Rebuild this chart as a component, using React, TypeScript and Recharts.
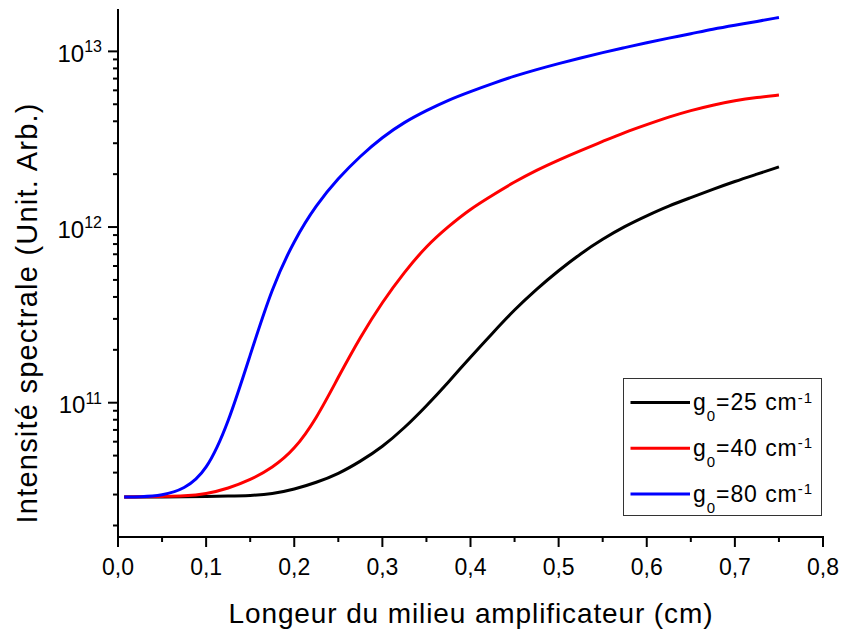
import { Legend, Line, LineChart, XAxis, YAxis } from 'recharts'

// longueur du milieu (cm)
const lengths = [0.007, 0.025, 0.05, 0.075, 0.1, 0.125, 0.15, 0.175, 0.2, 0.225, 0.25, 0.275, 0.3, 0.325, 0.35, 0.375, 0.4, 0.425, 0.45, 0.475, 0.5, 0.525, 0.55, 0.575, 0.6, 0.625, 0.65, 0.675, 0.7, 0.725, 0.75]

// intensité spectrale (u.a.)
const g25 = [2.91e10, 2.91e10, 2.91e10, 2.91e10, 2.93e10, 2.94e10, 2.96e10, 3.02e10, 3.21e10, 3.51e10, 3.93e10, 4.63e10, 5.6e10, 7.18e10, 9.58e10, 1.31e11, 1.82e11, 2.49e11, 3.39e11, 4.44e11, 5.66e11, 7.07e11, 8.55e11, 1.01e12, 1.16e12, 1.32e12, 1.47e12, 1.64e12, 1.82e12, 2.0e12, 2.2e12]
const g40 = [2.91e10, 2.91e10, 2.93e10, 2.94e10, 3.02e10, 3.25e10, 3.63e10, 4.25e10, 5.38e10, 8.08e10, 1.4e11, 2.37e11, 3.75e11, 5.55e11, 7.81e11, 1.01e12, 1.27e12, 1.52e12, 1.81e12, 2.11e12, 2.41e12, 2.73e12, 3.07e12, 3.46e12, 3.83e12, 4.23e12, 4.61e12, 4.95e12, 5.25e12, 5.47e12, 5.64e12]
const g80 = [2.91e10, 2.91e10, 2.96e10, 3.21e10, 4.03e10, 7.56e10, 1.87e11, 4.56e11, 8.44e11, 1.34e12, 1.9e12, 2.54e12, 3.25e12, 3.96e12, 4.61e12, 5.29e12, 5.91e12, 6.56e12, 7.24e12, 7.88e12, 8.53e12, 9.17e12, 9.85e12, 1.05e13, 1.12e13, 1.19e13, 1.26e13, 1.34e13, 1.41e13, 1.48e13, 1.56e13]

const gains = ['25', '40', '80']
const colors = ['#000000', '#ff0000', '#0000ff']

const xTicks = [0, 0.05, 0.1, 0.15, 0.2, 0.25, 0.3, 0.35, 0.4, 0.45, 0.5, 0.55, 0.6, 0.65, 0.7, 0.75, 0.8]
const yTicks = [
  2e10, 3e10, 4e10, 5e10, 6e10, 7e10, 8e10, 9e10,
  1e11, 2e11, 3e11, 4e11, 5e11, 6e11, 7e11, 8e11, 9e11,
  1e12, 2e12, 3e12, 4e12, 5e12, 6e12, 7e12, 8e12, 9e12,
  1e13,
]

const rows = lengths.map((x, i) => ({ x, g25: g25[i], g40: g40[i], g80: g80[i] }))
const keys = ['g25', 'g40', 'g80']

const FONT = '"Liberation Sans", Arial, sans-serif'

function XTick({ x, y, payload }: any) {
  const v = payload.value
  const major = Math.abs(v * 10 - Math.round(v * 10)) < 1e-6
  return (
    <g>
      <line x1={x} x2={x} y1={y} y2={y + (major ? 10 : 5)} stroke='#000' strokeWidth={2} />
      {major && (
        <text x={x} y={y + 38} textAnchor='middle' fontSize={23} fill='#000'>
          {v.toFixed(1).replace('.', ',')}
        </text>
      )}
    </g>
  )
}

function YTick({ x, y, payload }: any) {
  const p = Math.log10(payload.value)
  const major = Math.abs(p - Math.round(p)) < 1e-6
  return (
    <g>
      <line x1={x} x2={x - (major ? 10 : 5)} y1={y} y2={y} stroke='#000' strokeWidth={2} />
      {major && (
        <text x={x - 16} y={y + 10.5} textAnchor='end' fontSize={24} fill='#000'>
          10<tspan fontSize={16} dy={-9.5}>{Math.round(p)}</tspan>
        </text>
      )}
    </g>
  )
}

function XTitle({ viewBox }: any) {
  const cx = viewBox.x + viewBox.width / 2
  return (
    <text x={cx} y={viewBox.y + 86} textAnchor='middle' fontSize={28} textLength={484} lengthAdjust='spacing' fill='#000'>
      Longeur du milieu amplificateur (cm)
    </text>
  )
}

function YTitle({ viewBox }: any) {
  const cy = viewBox.y + viewBox.height / 2 + 40
  return (
    <text x={37} y={cy} transform={`rotate(-90, 37, ${cy})`} textAnchor='middle' fontSize={29} textLength={420} lengthAdjust='spacing' fill='#000'>
      Intensité spectrale (Unit. Arb.)
    </text>
  )
}

function GainLegend({ payload }: any) {
  return (
    <svg width={199} height={138} style={{ display: 'block', fontFamily: FONT }}>
      <rect x={0.5} y={0.5} width={198} height={137} fill='#fff' stroke='#333' />
      {(payload || []).map((entry: any, i: number) => {
        const cy = 24.5 + i * 45.75
        return (
          <g key={entry.value}>
            <line x1={7.5} x2={67} y1={cy} y2={cy} stroke={entry.color} strokeWidth={3} />
            <text x={70} y={cy + 7.5} fontSize={23} textLength={119} lengthAdjust='spacing' fill='#000'>
              g<tspan fontSize={15} dy={11}>0</tspan>
              <tspan dy={-11}>={entry.value} cm</tspan>
              <tspan fontSize={15} dy={-7.5}>-1</tspan>
            </text>
          </g>
        )
      })}
    </svg>
  )
}

export default function App() {
  return (
    <div style={{ position: 'absolute', left: 0, top: 0, fontFamily: FONT }}>
      <LineChart width={842} height={633} data={rows} margin={{ top: 10, right: 19, bottom: 0, left: 0 }}>
        <XAxis
          dataKey='x'
          type='number'
          domain={[0, 0.8]}
          ticks={xTicks}
          interval={0}
          height={96}
          tickSize={0}
          tickMargin={0}
          tickLine={false}
          tick={<XTick />}
          axisLine={{ stroke: '#000', strokeWidth: 2, strokeLinecap: 'square' }}
          allowDataOverflow
          label={<XTitle />}
        />
        <YAxis
          type='number'
          scale='log'
          domain={[1.72e10, 1.72e13]}
          ticks={yTicks}
          interval={0}
          width={118}
          tickSize={0}
          tickMargin={0}
          tickLine={false}
          tick={<YTick />}
          axisLine={{ stroke: '#000', strokeWidth: 2, strokeLinecap: 'square' }}
          allowDataOverflow
          label={<YTitle />}
        />
        <Legend
          layout='vertical'
          align='center'
          verticalAlign='middle'
          content={<GainLegend />}
          wrapperStyle={{ left: 623, top: 378, width: 199, height: 138 }}
        />
        {keys.map((k, i) => (
          <Line
            key={k}
            dataKey={k}
            name={gains[i]}
            type='basis'
            stroke={colors[i]}
            strokeWidth={3}
            dot={false}
            activeDot={false}
            isAnimationActive={false}
          />
        ))}
      </LineChart>
    </div>
  )
}
